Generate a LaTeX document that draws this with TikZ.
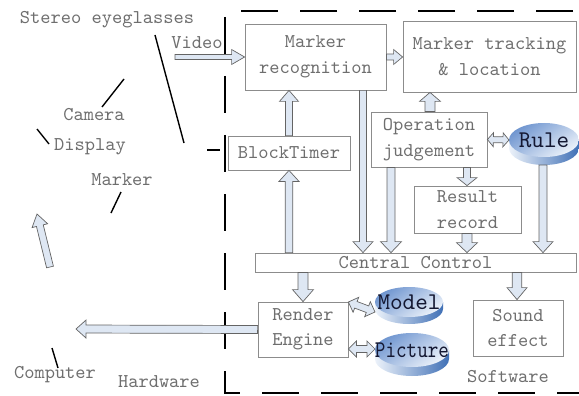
\documentclass[tikz,border=0pt]{standalone}
\usepackage{fontspec}
\newfontfamily\labelfont[Extension=.otf]{lmmono10-regular}
\newfontfamily\dbfont[Extension=.otf]{lmmono10-regular}
\newfontfamily\dbnarrowfont[Extension=.otf, FakeStretch=0.84]{lmmono10-regular}
\usetikzlibrary{calc}
\definecolor{BoxGray}{RGB}{140,140,140}
\definecolor{TextGray}{RGB}{110,110,110}
\definecolor{ArrowFill}{RGB}{222,231,243}
\definecolor{ArrowLine}{RGB}{100,100,100}
\definecolor{DiskTop}{RGB}{112,150,208}
\definecolor{DiskLight}{RGB}{236,242,250}
\definecolor{DiskSide}{RGB}{64,112,182}
\definecolor{DiskText}{RGB}{20,24,50}

\tikzset{
  box/.style={draw=BoxGray, line width=0.8pt, align=center, text=TextGray, inner sep=0pt,
    font=\labelfont\fontsize{19.5}{25.5}\selectfont},
  lbl/.style={text=TextGray, inner sep=0pt, font=\labelfont\fontsize{19.5}{25.5}\selectfont},
  dbtext/.style={text=DiskText, inner sep=0pt},
  barrow/.style={draw=ArrowLine, fill=ArrowFill, line width=0.7pt},
  leader/.style={draw=black, line width=1.4pt},
  frame/.style={draw=black, line width=2pt, dash pattern=on 37pt off 22pt, dash phase=37pt},
  bshaft/.store in=\bshw, bhead/.store in=\bhdw, blen/.store in=\bhdl,
  bshaft=3.5, bhead=9.5, blen=11
}

% block arrow from #2 to #3
\newcommand{\blockarrow}[3][]{%
  \begin{scope}[#1]
  \coordinate (ba-s) at (#2);
  \coordinate (ba-e) at (#3);
  \coordinate (ba-h) at ($(ba-e)!\bhdl pt!(ba-s)$);
  \draw[barrow] ($(ba-s)!\bshw pt!90:(ba-e)$) -- ($(ba-h)!\bshw pt!90:(ba-e)$)
    -- ($(ba-h)!\bhdw pt!90:(ba-e)$) -- (ba-e) -- ($(ba-h)!\bhdw pt!-90:(ba-e)$)
    -- ($(ba-h)!\bshw pt!-90:(ba-e)$) -- ($(ba-s)!\bshw pt!-90:(ba-e)$) -- cycle;
  \end{scope}}

% block arrow with two heads
\newcommand{\dblockarrow}[3][]{%
  \begin{scope}[#1]
  \coordinate (ba-s) at (#2);
  \coordinate (ba-e) at (#3);
  \coordinate (ba-h) at ($(ba-e)!\bhdl pt!(ba-s)$);
  \coordinate (ba-g) at ($(ba-s)!\bhdl pt!(ba-e)$);
  \draw[barrow] (ba-s) -- ($(ba-g)!\bhdw pt!-90:(ba-e)$) -- ($(ba-g)!\bshw pt!-90:(ba-e)$)
    -- ($(ba-h)!\bshw pt!90:(ba-s)$) -- ($(ba-h)!\bhdw pt!90:(ba-s)$) -- (ba-e)
    -- ($(ba-h)!\bhdw pt!-90:(ba-s)$) -- ($(ba-h)!\bshw pt!-90:(ba-s)$)
    -- ($(ba-g)!\bshw pt!90:(ba-e)$) -- ($(ba-g)!\bhdw pt!90:(ba-e)$) -- cycle;
  \end{scope}}

% flat data disk: name, centre, x radius, y radius, depth, text
\newcommand{\dbdisk}[6]{%
  \coordinate (#1) at (#2);
  \shade[left color=DiskLight, right color=DiskSide] ($(#1)+(-#3,0)$) -- ++(0,#5)
    arc[start angle=180, end angle=0, x radius=#3, y radius=#4] -- ++(0,-#5) -- cycle;
  \shade[top color=DiskTop, bottom color=DiskLight, shading angle=35] (#1) ellipse [x radius=#3, y radius=#4];
  \node[dbtext] (#1-t) at (#1) {#6};}

\begin{document}
\begin{tikzpicture}[x=1pt, y=-1pt]
\useasboundingbox (0,0) rectangle (579,396);

% software frame
\draw[frame] (595,11) -- (225,11) -- (225,393) -- (595,393);

% blocks
\node[box, minimum width=141pt, minimum height=66pt] (mrec) at (315.5,57) {Marker\\recognition};
\node[box, minimum width=173pt, minimum height=71pt] (mtrack) at (489.5,56.5) {Marker tracking\\\& location};
\node[box, minimum width=122pt, minimum height=34pt] (timer) at (289,153) {BlockTimer};
\node[box, minimum width=116pt, minimum height=55pt] (opj) at (429,139.5) {Operation\\judgement};
\node[box, minimum width=107pt, minimum height=47pt] (rrec) at (467.5,209.5) {Result\\record};
\node[box, minimum width=321pt, minimum height=19pt] (cc) at (415.5,262.5) {Central Control};
\node[box, minimum width=90pt, minimum height=55pt] (rend) at (303,329.5) {Render\\Engine};
\node[box, minimum width=90pt, minimum height=56pt] (sound) at (518,328) {Sound\\effect};

\dbdisk{rule}{544,140}{35}{17}{8}{\dbfont\fontsize{24}{24}\selectfont Rule}
\dbdisk{model}{409,302}{34}{15}{7}{\dbfont\fontsize{24}{24}\selectfont Model}
\dbdisk{pict}{412,350}{37}{17}{9}{\dbnarrowfont\fontsize{24}{24}\selectfont Picture}

% labels
\node[lbl] (stereo) at (107,20) {Stereo eyeglasses};
\node[lbl] (video) at (197,43) {Video};
\node[lbl] (camera) at (94,115) {Camera};
\node[lbl] (display) at (90,147) {Display};
\node[lbl] (marker) at (122,180) {Marker};
\node[lbl] (computer) at (55,375) {Computer};
\node[lbl] (hardware) at (159,382) {Hardware};
\node[lbl] (software) at (508,377) {Software};

% columns of the vertical arrows
\coordinate (c1) at (363,0);
\coordinate (c2) at (391,0);
\coordinate (c3) at (430,0);
\coordinate (c4) at (467,0);
\coordinate (c5) at (543,0);
\coordinate (c6) at (517,0);
\coordinate (vid) at (175,57);
\coordinate (pc) at (76,329);
\coordinate (up-s) at (50,267);
\coordinate (up-e) at (37,214);

% arrows
\blockarrow[bshaft=2.5, bhead=7.5, blen=13]{vid}{vid -| mrec.west}
\blockarrow[bshaft=3, bhead=7.5, blen=9]{mrec.east}{mrec.east -| mtrack.west}
\blockarrow{timer.north}{timer.north |- mrec.south}
\blockarrow[bshaft=3.8, bhead=10]{timer.south |- cc.north}{timer.south}
\blockarrow[bshaft=3.5, bhead=10]{c1 |- mrec.south}{c1 |- cc.north}
\blockarrow[bshaft=4, bhead=10.5]{c2 |- opj.south}{c2 |- cc.north}
\blockarrow[bshaft=5, bhead=10.5, blen=9]{c3 |- opj.north}{c3 |- mtrack.south}
\blockarrow[bshaft=3.5, bhead=10, blen=8]{c4 |- opj.south}{c4 |- rrec.north}
\blockarrow[bshaft=5, bhead=10.5, blen=10]{c4 |- rrec.south}{c4 |- cc.north}
\blockarrow[bshaft=4, bhead=10]{c5 |- 0,165}{c5 |- cc.north}
\blockarrow[bshaft=5, bhead=10.5, blen=12]{rend.north |- cc.south}{rend.north}
\blockarrow[bshaft=4.8, bhead=10, blen=12]{c6 |- cc.south}{c6 |- sound.north}
\dblockarrow[bshaft=3, bhead=7, blen=6]{opj.east}{509,140}
\dblockarrow[bshaft=3.5, bhead=8, blen=8]{rend.east |- model}{375,312}
\dblockarrow[bshaft=3.5, bhead=8, blen=8]{rend.east |- 0,349}{375,349}
\blockarrow[bshaft=4, bhead=9, blen=10]{rend.west}{pc}
\blockarrow[bshaft=3.5, bhead=8, blen=12]{up-s}{up-e}

% leader lines
\coordinate (l1a) at (155,35);  \coordinate (l1b) at (184,143);
\coordinate (l2a) at (102,107); \coordinate (l2b) at (124,79);
\coordinate (l3a) at (37,129);  \coordinate (l3b) at (49,144);
\coordinate (l4a) at (121,192); \coordinate (l4b) at (111,213);
\coordinate (l5a) at (207,150); \coordinate (l5b) at (220,150);
\coordinate (l6a) at (52,348);  \coordinate (l6b) at (58,368);
\draw[leader] (l1a) -- (l1b);
\draw[leader] (l2a) -- (l2b);
\draw[leader] (l3a) -- (l3b);
\draw[leader] (l4a) -- (l4b);
\draw[leader] (l5a) -- (l5b);
\draw[leader] (l6a) -- (l6b);
\end{tikzpicture}
\end{document}
